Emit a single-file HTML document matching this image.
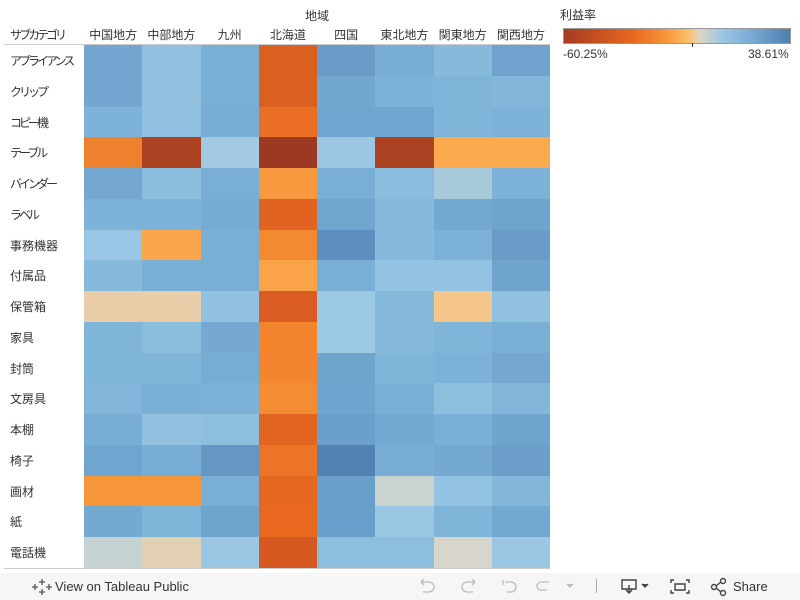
<!DOCTYPE html>
<html><head><meta charset="utf-8"><style>
body{margin:0;width:800px;height:600px;background:#fff;position:relative;overflow:hidden;font-family:"Liberation Sans","Noto Sans CJK JP",sans-serif;color:#333;font-size:12px}
.a{position:absolute;white-space:nowrap}
.hd{position:absolute;top:26px;width:58.25px;text-align:center}
.rl{position:absolute;left:10px;white-space:nowrap}
.k{letter-spacing:-3px}
.c{position:absolute;width:58.5px;height:31px}
</style></head><body>
<div class="a" style="left:305px;top:7px">地域</div>
<div class="a k" style="left:10px;top:26px">サブカテゴリ</div>
<div id="h"></div>
<div class="a" style="left:4px;top:44px;width:546px;height:1px;background:#ccc"></div>
<div id="g"></div>
<div class="a" style="left:4px;top:568px;width:546px;height:1px;background:#ccc"></div>
<div class="a" style="left:560px;top:6px">利益率</div>
<div class="a" style="left:563px;top:28px;width:226px;height:14px;border:1px solid #999;background:linear-gradient(90deg,#a63a22 0%,#e6671f 30%,#f7953a 45%,#fbbf6a 55%,#dfd5c0 60%,#9bc7e4 70%,#73a6d0 85%,#4e7fb0 100%)"></div>
<div class="a" style="left:692px;top:43px;width:1px;height:4px;background:#333"></div>
<div class="a" style="left:563px;top:47px">-60.25%</div>
<div class="a" style="left:748px;top:47px">38.61%</div>
<div class="a" style="left:0;top:573px;width:800px;height:27px;background:#f6f6f6"></div>
<svg class="a" style="left:32px;top:577px" width="20" height="20" viewBox="0 0 20 20" stroke="#555" stroke-width="1.3"><path d="M10 2v6M7 5h6M10 12v6M7 15h6M3 7v6M0 10h6M17 7v6M14 10h6"/></svg>
<div class="a" style="left:55px;top:579px;font-size:13px;color:#333">View on Tableau Public</div>
<svg class="a" style="left:415px;top:576px" width="180" height="20" fill="none" stroke="#bbb" stroke-width="1.3"><path d="M6 6h8a5 5 0 0 1 0 10H8M6 6l3-3M6 6l3 3"/><path d="M60 6h-8a5 5 0 0 0 0 10h6M60 6l-3-3M60 6l-3 3"/><path d="M88 4v5M90 6h6a5 5 0 0 1 0 10h-4"/><path d="M134 6h-8a4 4 0 0 0 0 8h6"/><path d="M152 8l3 3 3-3" fill="#bbb"/></svg>
<div class="a" style="left:596px;top:579px;width:1px;height:14px;background:#aaa"></div>
<svg class="a" style="left:620px;top:576px" width="100" height="20" fill="none" stroke="#444" stroke-width="1.4"><path d="M2 4h14v9H2zM9 9v8M6 14l3 3 3-3"/><path d="M22 8l3 3 3-3" fill="#444"/><path d="M54 4h-3v3M66 4h3v3M54 17h-3v-3M66 17h3v-3M55 8h10v6H55z"/></svg>
<svg class="a" style="left:710px;top:577px" width="20" height="20" fill="none" stroke="#444" stroke-width="1.4"><circle cx="13" cy="4" r="2.5"/><circle cx="4" cy="10" r="2.5"/><circle cx="13" cy="16" r="2.5"/><path d="M6 9l5-4M6 11l5 4"/></svg>
<div class="a" style="left:733px;top:579px;font-size:13px;color:#333">Share</div>
<script>
var cols=["中国地方","中部地方","九州","北海道","四国","東北地方","関東地方","関西地方"];
var rows=["アプライアンス","クリップ","コピー機","テーブル","バインダー","ラベル","事務機器","付属品","保管箱","家具","封筒","文房具","本棚","椅子","画材","紙","電話機"];
var kana=[1,1,1,1,1,1,0,0,0,0,0,0,0,0,0,0,0];
var C=[
["#73a6d0","#92c1e0","#7aafd5","#dc5f22","#699dc7","#78aed5","#86badd","#6fa3cd"],
["#73a6d0","#92c1e0","#7aafd5","#dc5f22","#72a7cf","#7db3d8","#80b5da","#82b7db"],
["#7db3d8","#90c0df","#78add4","#ea6f25","#6fa5cf","#6fa5cf","#80b5da","#7db2d8"],
["#ee812d","#ab4322","#a2cbe2","#9c3922","#9bc7e4","#ab4322","#fbaa4f","#fbaa4f"],
["#74a8d1","#8bbddd","#7aafd5","#f79a3f","#7aafd5","#89bcdd","#a7cadb","#7db2d8"],
["#7db3d8","#7db3d8","#76abd3","#e06322","#70a5ce","#86badd","#74a9d2","#6fa4cd"],
["#98c6e4","#faa54b","#7aafd5","#f38a31","#5c8fbf","#86badd","#7db2d8","#699dc7"],
["#86badd","#7ab0d6","#7aafd5","#faa348","#79aed5","#93c3e2","#93c3e2","#6fa4cd"],
["#e9cda8","#e9cda8","#90c1df","#d95c22","#9bc8e3","#84b9dc","#f5c68a","#90c1df"],
["#80b5da","#8bbddd","#75a9d1","#f2852e","#9bc8e3","#86badd","#80b5da","#79aed5"],
["#80b5da","#80b5da","#78add3","#f2852e","#6fa4cd","#80b5da","#7db2d8","#74a8d1"],
["#82b7db","#7ab0d6","#7db2d8","#f48c33","#6ea4cd","#7ab0d6","#8bbfdd","#82b7db"],
["#78add4","#92c2e0","#8bbfdd","#e26421","#6aa0cb","#74a9d1","#7ab0d6","#6fa4cd"],
["#6fa5cf","#78aed5","#6497c4","#ec7427","#5282b1","#78add4","#74a9d1","#6b9fca"],
["#f7953a","#f7953a","#7aafd5","#e6671f","#69a0cb","#c9d3cf","#92c3e2","#82b7db"],
["#74a9d2","#80b5da","#6fa4cd","#e86820","#69a0cb","#98c8e3","#80b5da","#73a9d1"],
["#c6d3d3","#e2d0b5","#9bc7e4","#d65921","#8bbfdd","#8bbfdd","#d8d6cc","#9bc7e4"]];
var h="",g="",cw=58.25,rh=30.76;
cols.forEach(function(c,i){h+='<div class="hd" style="left:'+(84+i*cw)+'px">'+c+'</div>';});
rows.forEach(function(r,j){var y=45+j*rh;g+='<div class="rl'+(kana[j]?' k':'')+'" style="top:'+(y+7)+'px">'+r+'</div>';
C[j].forEach(function(col,i){g+='<div class="c" style="left:'+(84+i*cw)+'px;top:'+y+'px;height:'+(rh+0.5)+'px;background:'+col+'"></div>';});});
document.getElementById("h").innerHTML=h;document.getElementById("g").innerHTML=g;
</script>
</body></html>
